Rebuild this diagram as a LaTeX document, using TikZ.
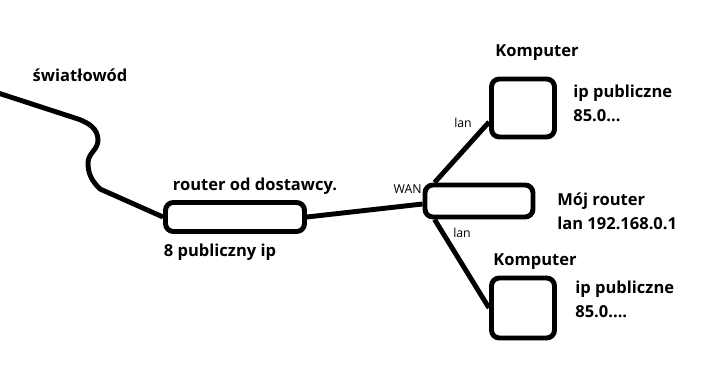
\documentclass[tikz,border=0pt]{standalone}
\usepackage{fontspec}
\setmainfont{Open Sans}
\begin{document}
\begin{tikzpicture}[
    x=0.02cm, y=0.02cm,
    every node/.style={font=\fontsize{9.4}{13.6}\selectfont\bfseries, inner sep=0pt},
    urzadzenie/.style={draw, line width=2.8pt, rounded corners=4.5pt},
    router/.style={urzadzenie},
    komp/.style={urzadzenie, minimum width=1.26cm, minimum height=1.16cm},
    opis/.style={anchor=west, align=left},
    port/.style={font=\fontsize{7}{9}\selectfont},
    kabel/.style={line width=2.8pt}
]
    \useasboundingbox (0,0) rectangle (711,369);

    \node[router, minimum width=2.78cm, minimum height=0.58cm] (dost) at (235,152) {};
    \node[router, minimum width=2.16cm, minimum height=0.64cm] (moj)  at (479,168) {};
    \node[komp] (komp1) at (523,261) {};
    \node[komp, minimum height=1.2cm] (komp2) at (523,61) {};

    \coordinate (swiatlo) at (-5,277);

    \node (lswiatlo) at (80,294)  {światłowód};
    \node (ldost)    at (255,183) {router od dostawcy.};
    \node (lip)      at (220,117) {8 publiczny ip};
    \node (lkomp1)   at (537,316) {Komputer};
    \node (lkomp2)   at (535,107) {Komputer};
    \node[opis] (lpub1) at (573,266) {ip publiczne\\85.0...};
    \node[opis] (lmoj)  at (557,158) {Mój router\\lan 192.168.0.1};
    \node[opis] (lpub2) at (575,70)  {ip publiczne\\85.0....};
    \node[port] (lan1) at (463,246) {lan};
    \node[port] (lan2) at (462,136) {lan};
    \node[port, anchor=east] (wan) at (422,180) {WAN};

    % Kable
    \draw[kabel] (swiatlo) -- (78,250) to[out=-20,in=90] (98,229) to[out=-90,in=90] (88,206)
        to[out=-90,in=135] (100,180) -- (dost.west);
    \draw[kabel] (dost.east) -- ([yshift=-0.06cm]moj.west);
    \draw[kabel] ([xshift=0.24cm]moj.north west) -- ([yshift=-0.28cm]komp1.west);
    \draw[kabel] ([xshift=0.24cm]moj.south west) -- (komp2.west);
\end{tikzpicture}
\end{document}
